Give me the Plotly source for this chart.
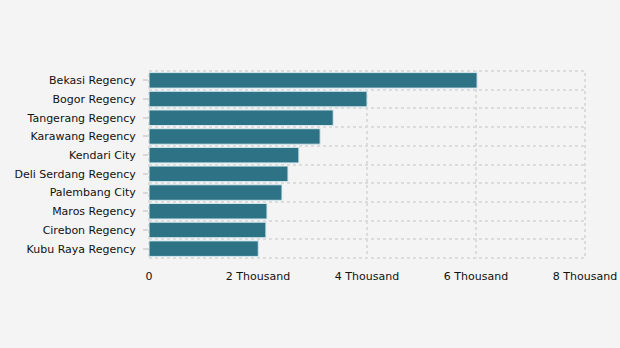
import plotly.graph_objects as go

# Top regencies / cities, values in units
regions = [
    "Bekasi Regency", "Bogor Regency", "Tangerang Regency", "Karawang Regency",
    "Kendari City", "Deli Serdang Regency", "Palembang City", "Maros Regency",
    "Cirebon Regency", "Kubu Raya Regency",
]
values = [6020, 4000, 3380, 3140, 2750, 2550, 2440, 2165, 2145, 2005]

x_tick_values = [0, 2000, 4000, 6000, 8000]
x_tick_labels = ["0", "2 Thousand", "4 Thousand", "6 Thousand", "8 Thousand"]

positions = list(range(len(regions)))

BG = "#f4f4f4"
GRID = "#dcdcdc"
DASH = "3px,3px"
FONT = "DejaVu Sans"

fig = go.Figure(
    go.Bar(
        x=values,
        y=positions,
        orientation="h",
        marker=dict(color="#2e7285", line=dict(color="#d4e8ee", width=1)),
        width=0.83,
        hovertemplate="%{text}: %{x}<extra></extra>",
        text=regions,
        textposition="none",
    )
)

fig.update_layout(
    width=620,
    height=348,
    margin=dict(l=149, r=35, t=71, b=90),
    paper_bgcolor=BG,
    plot_bgcolor=BG,
    font=dict(family=FONT, size=11, color="#222222"),
    showlegend=False,
    bargap=0.17,
    # dotted frame around the plotting area, styled like the grid
    shapes=[
        dict(
            type="rect", xref="paper", yref="paper",
            x0=0, x1=1, y0=0, y1=1,
            line=dict(color=GRID, width=2, dash=DASH),
            layer="below",
        )
    ],
)

fig.update_xaxes(
    range=[0, 8000],
    tickvals=x_tick_values,
    ticktext=x_tick_labels,
    showgrid=True,
    gridcolor=GRID,
    gridwidth=2,
    griddash=DASH,
    zeroline=False,
    showline=False,
    ticks="outside",
    ticklen=8,
    tickcolor="rgba(0,0,0,0)",
    tickfont=dict(size=11, color="#111111"),
    automargin=False,
    fixedrange=True,
)

fig.update_yaxes(
    range=[len(regions) - 0.5, -0.5],
    tickvals=positions,
    ticktext=regions,
    showgrid=False,
    zeroline=False,
    showline=False,
    ticks="outside",
    ticklen=5,
    tickcolor="#d8d8d8",
    tickwidth=2,
    ticklabelstandoff=5,
    tickfont=dict(size=11, color="#111111"),
    minor=dict(
        tick0=-0.5,
        dtick=1,
        showgrid=True,
        gridcolor=GRID,
        gridwidth=2,
        griddash=DASH,
        ticks="",
    ),
    automargin=False,
    fixedrange=True,
)

fig.write_html("out.html")
